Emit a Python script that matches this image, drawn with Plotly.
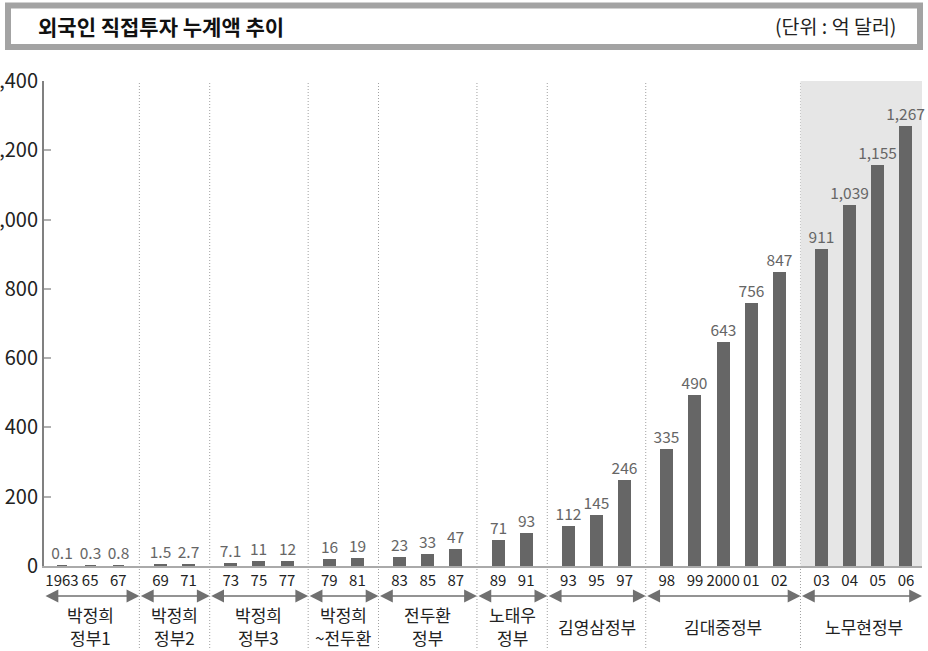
import plotly.graph_objects as go

# Cumulative foreign direct investment by year (unit: 100 million dollars)
years = ["1963", "65", "67", "69", "71", "73", "75", "77", "79", "81",
         "83", "85", "87", "89", "91", "93", "95", "97",
         "98", "99", "2000", "01", "02", "03", "04", "05", "06"]
values = [0.1, 0.3, 0.8, 1.5, 2.7, 7.1, 11, 12, 16, 19,
          23, 33, 47, 71, 93, 112, 145, 246,
          335, 490, 643, 756, 847, 911, 1039, 1155, 1267]

# Administrations (one list entry per text line) and bars under each
groups = [["박정희", "정부1"], ["박정희", "정부2"], ["박정희", "정부3"], ["박정희", "~전두환"],
          ["전두환", "정부"], ["노태우", "정부"], ["김영삼정부"], ["김대중정부"], ["노무현정부"]]
group_sizes = [3, 2, 3, 2, 3, 2, 3, 5, 4]

y_ticks = [0, 200, 400, 600, 800, 1000, 1200, 1400]

TITLE = "외국인 직접투자 누계액 추이"
UNIT = "(단위 : 억 달러)"

FONT = "Noto Sans CJK KR, Noto Sans, sans-serif"
BAR = "#666666"
W, H = 928, 651
ML, MR, MT, MB = 44, 6, 81, 85
GAP = 0.5  # extra spacing between administrations, in bar slots

# x position of every bar: slot index plus a gap after each group
positions, group_of = [], []
i = 0
for g, n in enumerate(group_sizes):
    for _ in range(n):
        positions.append(i + GAP * g)
        group_of.append(g)
        i += 1

X0, X1 = positions[0] - 0.64, positions[-1] + 0.57
plot_w = W - ML - MR
plot_h = H - MT - MB


def px_x(px):
    return (px - ML) / plot_w


def px_y(py):
    return (H - MB - py) / plot_h


# group boundaries (midway between the last bar of one group and first of next)
bounds = [X0]
starts = []
k = 0
for n in group_sizes:
    starts.append(k)
    k += n
for g in range(1, len(group_sizes)):
    s = starts[g]
    bounds.append((positions[s - 1] + positions[s]) / 2)
bounds.append(X1)

labels = [f"{v:,}" for v in values]

fig = go.Figure()
fig.add_trace(go.Bar(
    x=positions, y=values, width=0.39,
    marker=dict(color=BAR, line=dict(color=BAR, width=2)),
    text=labels, textposition="outside", constraintext="none",
    textfont=dict(family=FONT, size=15.5, color="#666666"),
    cliponaxis=False, hoverinfo="skip",
))

shapes = []
# shaded band for the latest administration
shapes.append(dict(type="rect", xref="x", yref="y", x0=bounds[-2], x1=X1,
                   y0=0, y1=y_ticks[-1], fillcolor="#e6e6e6",
                   line=dict(width=0), layer="below"))
# dotted separators between administrations
for b in bounds[1:-1]:
    shapes.append(dict(type="line", xref="x", yref="paper", x0=b, x1=b,
                       y0=px_y(648), y1=1,
                       line=dict(color="#a0a0a0", width=1, dash="1px,2px"),
                       layer="below"))
# title box
shapes.append(dict(type="rect", xref="paper", yref="paper",
                   x0=px_x(8), x1=px_x(920), y0=px_y(5.5), y1=px_y(47),
                   fillcolor="white", line=dict(color="#a3a3a3", width=6)))

annotations = []
annotations.append(dict(text=TITLE, xref="paper", yref="paper", x=px_x(36), y=px_y(26),
                        xanchor="left", yanchor="middle", showarrow=False,
                        font=dict(family=FONT, size=21, color="#111111", weight="bold")))
annotations.append(dict(text=UNIT, xref="paper", yref="paper", x=px_x(898), y=px_y(26),
                        xanchor="right", yanchor="middle", showarrow=False,
                        font=dict(family=FONT, size=19.5, color="#222222")))

arrow_y = px_y(596)
for g, lines in enumerate(groups):
    a, b = bounds[g], bounds[g + 1]
    annotations.append(dict(
        text="", xref="x", yref="paper", x=b, y=arrow_y,
        axref="x", ax=a, ayref="pixel", ay=0,
        showarrow=True, arrowside="end+start",
        arrowhead=2, startarrowhead=2, arrowsize=1.6, startarrowsize=1.6,
        arrowwidth=1.6, arrowcolor="#707070", standoff=0, startstandoff=0,
    ))
    idx = [j for j, gg in enumerate(group_of) if gg == g]
    cx = (positions[idx[0]] + positions[idx[-1]]) / 2
    line_ys = [614, 637] if len(lines) == 2 else [626]
    for text, ly in zip(lines, line_ys):
        annotations.append(dict(
            text=text, xref="x", yref="paper", x=cx, y=px_y(ly),
            yanchor="middle", xanchor="center", showarrow=False,
            font=dict(family=FONT, size=17, color="#222222"),
        ))

fig.update_layout(
    width=W, height=H,
    margin=dict(l=ML, r=MR, t=MT, b=MB, autoexpand=False),
    paper_bgcolor="white", plot_bgcolor="white",
    showlegend=False, bargap=0,
    shapes=shapes, annotations=annotations,
    xaxis=dict(range=[X0, X1], tickvals=positions, ticktext=years,
               showgrid=False, zeroline=False, showline=True,
               linecolor="#aaaaaa", linewidth=2, ticks="",
               tickfont=dict(family=FONT, size=15, color="#222222"),
               automargin=False, fixedrange=True),
    yaxis=dict(range=[0, y_ticks[-1]], tickvals=y_ticks, tickformat=",d",
               showgrid=False, zeroline=False, showline=True,
               linecolor="#808080", linewidth=2,
               ticks="inside", ticklen=7, tickwidth=2, tickcolor="#b0b0b0",
               tickfont=dict(family=FONT, size=20, color="#222222"),
               automargin=False, fixedrange=True),
)

fig.write_html("out.html")
